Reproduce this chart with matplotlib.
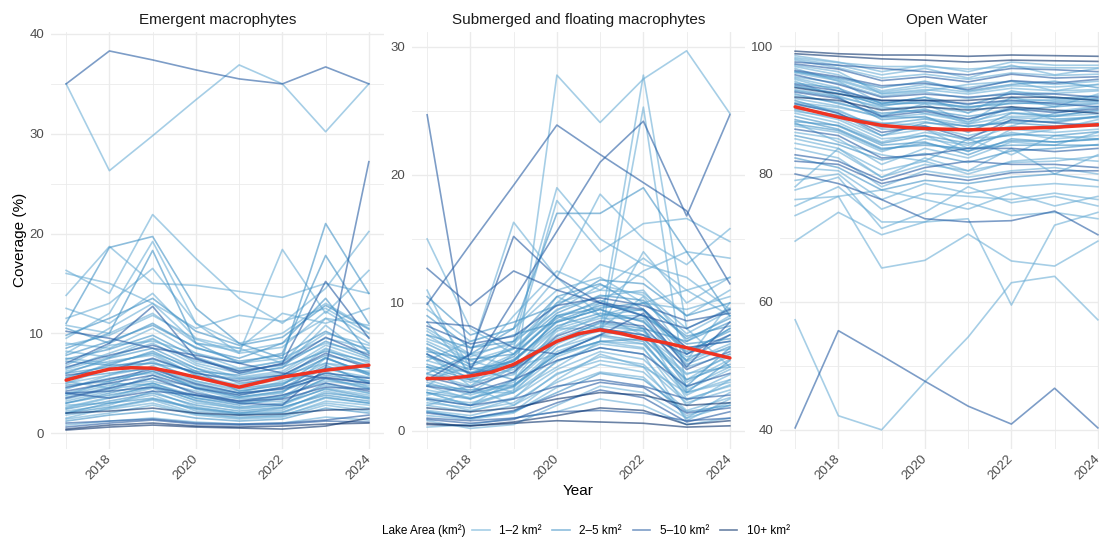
import numpy as np
import matplotlib
matplotlib.use("Agg")
import matplotlib.pyplot as plt
import matplotlib.transforms as mtransforms
from matplotlib.lines import Line2D

plt.rcParams['font.family'] = ['Liberation Sans', 'DejaVu Sans']

years = [2017, 2018, 2019, 2020, 2021, 2022, 2023, 2024]
area_classes = ['1–2 km²', '2–5 km²', '5–10 km²', '10+ km²']
class_colors = ['#6BAED6', '#4292C6', '#265CA3', '#08306B']

# Emergent macrophytes coverage (%) per lake, with lake area class index
emergent = [
    [35.0, 38.3, 37.4, 36.4, 35.5, 35.0, 36.7, 35.0],
    [35.0, 26.3, 29.8, 33.4, 36.9, 35.0, 30.2, 35.0],
    [4.0, 3.5, 4.2, 3.8, 3.0, 2.8, 6.5, 27.2],
    [16.3, 14.0, 21.9, 17.5, 13.5, 11.0, 14.5, 20.2],
    [13.8, 18.7, 15.0, 14.8, 14.2, 13.6, 15.0, 14.0],
    [11.0, 18.6, 19.7, 12.5, 9.0, 7.5, 21.0, 14.0],
    [9.5, 12.0, 19.2, 11.0, 8.0, 18.4, 12.0, 16.3],
    [7.0, 9.0, 12.7, 7.5, 6.0, 7.0, 15.2, 9.5],
    [8.5, 10.0, 18.3, 9.0, 7.0, 8.0, 17.8, 11.0],
    [16.0, 15.0, 13.0, 10.5, 11.8, 11.2, 12.5, 10.0],
    [10.5, 9.0, 11.0, 8.5, 7.5, 9.0, 13.5, 8.0],
    [6.5, 8.0, 9.5, 7.0, 6.0, 6.5, 10.8, 7.5],
    [0.4, 0.8, 1.0, 0.7, 0.6, 0.7, 0.9, 1.0],
    [0.3, 0.6, 0.8, 0.6, 0.5, 0.4, 0.7, 1.5],
    [1.0, 1.2, 1.4, 1.0, 0.9, 1.0, 1.3, 1.8],
    [5.0, 6.5, 7.0, 5.5, 4.5, 5.0, 6.5, 6.8],
    [4.5, 5.5, 6.0, 4.8, 3.8, 4.5, 6.0, 5.5],
    [3.0, 4.0, 5.0, 3.5, 2.8, 3.5, 5.5, 4.5],
    [2.0, 3.0, 3.5, 2.5, 2.0, 2.5, 4.0, 3.5],
    [7.5, 7.0, 8.0, 6.5, 5.5, 6.0, 8.5, 7.0],
    [3.5, 4.5, 5.5, 4.0, 3.2, 3.8, 5.0, 4.2],
    [1.5, 2.5, 3.3, 2.0, 1.5, 1.8, 3.0, 2.5],
    [2.5, 3.5, 4.5, 3.0, 2.5, 2.8, 4.5, 3.8],
    [6.0, 7.5, 8.5, 6.5, 5.0, 5.5, 7.5, 6.0],
    [9.0, 8.5, 10.5, 8.0, 7.0, 7.5, 9.5, 8.5],
    [4.0, 5.0, 4.8, 3.5, 3.0, 3.2, 4.8, 4.0],
    [5.5, 6.0, 6.5, 5.0, 4.0, 4.5, 6.8, 5.0],
    [10.2, 9.5, 8.5, 7.8, 7.0, 6.0, 5.5, 5.0],
    [3.2, 4.2, 5.8, 3.8, 3.5, 4.0, 7.5, 6.0],
    [12.5, 11.0, 14.0, 9.5, 8.5, 12.0, 11.0, 12.5],
    [1.2, 1.8, 2.2, 1.5, 1.2, 1.4, 2.5, 2.0],
    [6.8, 8.8, 9.2, 8.0, 6.5, 7.2, 9.0, 8.0],
    [5.8, 6.3, 7.5, 6.0, 5.2, 5.8, 8.0, 6.5],
    [2.8, 3.0, 3.8, 2.2, 1.8, 2.0, 3.5, 3.0],
    [11.5, 13.0, 16.5, 11.0, 9.0, 10.0, 13.0, 10.5],
    [4.8, 5.2, 6.2, 4.5, 3.6, 4.2, 5.8, 5.2],
    [8.0, 10.5, 13.0, 9.0, 8.5, 7.0, 11.5, 9.0],
    [2.0, 2.2, 2.5, 2.0, 1.8, 1.9, 2.3, 2.4],
    [3.8, 4.8, 5.2, 4.2, 3.0, 3.8, 5.2, 4.8],
    [7.2, 6.8, 7.0, 6.2, 5.8, 6.6, 8.2, 7.2],
    [0.8, 1.2, 1.5, 1.1, 0.9, 1.0, 1.6, 1.3],
    [5.2, 4.5, 5.5, 4.6, 4.0, 5.2, 6.5, 6.2],
    [4.2, 5.0, 5.8, 4.5, 3.8, 4.6, 6.0, 5.5],
    [2.4, 3.2, 4.0, 2.8, 2.2, 2.6, 3.8, 3.2],
    [6.2, 7.2, 7.8, 5.8, 4.8, 5.8, 7.0, 6.5],
    [3.6, 4.6, 6.8, 4.4, 3.4, 3.6, 6.2, 4.6],
    [5.6, 6.8, 8.2, 6.2, 4.2, 4.8, 7.6, 5.8],
    [2.2, 2.8, 4.2, 2.6, 2.0, 2.3, 4.2, 3.4],
    [7.8, 9.2, 10.8, 8.6, 7.2, 7.8, 10.2, 8.2],
    [4.4, 5.8, 7.2, 5.2, 4.2, 4.9, 7.0, 5.9],
    [6.6, 7.8, 8.8, 7.4, 6.2, 6.9, 9.6, 7.8],
    [1.8, 2.4, 3.0, 1.9, 1.6, 1.7, 3.2, 2.8],
    [3.0, 3.8, 4.6, 3.3, 2.6, 3.0, 4.4, 3.6],
    [8.8, 9.8, 11.8, 9.4, 8.0, 8.6, 12.2, 9.6],
    [5.0, 5.8, 6.6, 5.2, 4.4, 5.0, 6.4, 5.6],
    [6.0, 6.6, 7.4, 6.0, 5.4, 5.8, 7.8, 6.8],
    [2.6, 3.6, 4.8, 3.2, 2.4, 2.8, 5.0, 4.0],
    [4.6, 5.4, 6.4, 4.9, 4.0, 4.4, 5.6, 5.0],
    [10.8, 10.0, 12.0, 9.0, 8.2, 9.0, 11.5, 10.8],
    [1.4, 2.0, 2.8, 1.8, 1.4, 1.6, 2.8, 2.2],
    [7.4, 8.4, 9.8, 7.6, 6.2, 6.8, 9.2, 7.6],
    [3.4, 4.4, 5.0, 3.7, 3.1, 3.6, 5.4, 4.4],
    [5.4, 7.0, 8.0, 5.8, 4.6, 5.4, 8.4, 6.6],
    [9.8, 11.5, 13.5, 10.2, 8.8, 9.6, 12.8, 10.4],
    [4.0, 4.2, 4.6, 3.8, 3.2, 3.4, 4.6, 4.4],
    [6.4, 7.6, 9.0, 6.8, 5.6, 6.2, 8.8, 7.4],
    [2.0, 2.6, 3.4, 2.4, 1.9, 2.1, 3.6, 3.0],
    [8.2, 7.6, 9.4, 7.2, 6.4, 7.2, 10.0, 8.8],
    [0.6, 1.0, 1.3, 0.9, 0.8, 0.9, 1.2, 1.1],
    [3.8, 5.2, 6.2, 4.6, 3.6, 4.1, 6.6, 5.2],
]
emergent_class = [2, 0, 2, 0, 0, 1, 0, 2, 1, 0, 1, 0, 3, 3, 2, 0, 0, 1, 1, 0,
                  2, 0, 0, 1, 0, 0, 1, 2, 0, 0, 1, 0, 2, 0, 0, 1, 0, 3, 0, 1,
                  0, 0, 2, 1, 0, 0, 1, 0, 1, 0, 2, 0, 1, 0, 0, 1, 0, 2, 0, 0,
                  1, 0, 0, 1, 2, 0, 1, 0, 2, 0]

# Submerged and floating macrophytes coverage (%)
submerged = [
    [24.7, 4.8, 10.2, 15.6, 21.0, 24.2, 16.8, 24.7],
    [9.9, 14.6, 19.2, 23.9, 21.6, 19.4, 17.2, 11.5],
    [5.0, 3.0, 3.0, 27.8, 24.1, 27.5, 29.7, 24.8],
    [3.0, 2.0, 4.0, 8.0, 8.0, 27.8, 8.0, 5.0],
    [2.0, 3.0, 5.0, 6.0, 7.0, 25.3, 3.0, 4.0],
    [4.5, 6.0, 8.0, 17.0, 17.0, 19.0, 14.0, 9.0],
    [6.0, 4.0, 7.0, 19.0, 15.0, 13.0, 12.0, 9.5],
    [4.0, 5.0, 6.5, 18.0, 14.0, 16.2, 16.6, 14.8],
    [5.5, 7.0, 8.0, 12.0, 18.5, 15.0, 13.0, 15.8],
    [15.0, 8.0, 6.0, 9.0, 10.0, 12.5, 14.0, 13.5],
    [3.5, 6.0, 16.3, 12.0, 9.0, 10.0, 11.0, 9.0],
    [4.0, 6.0, 15.2, 12.0, 10.0, 9.5, 6.5, 7.0],
    [12.7, 9.8, 12.5, 11.0, 10.0, 9.0, 8.0, 9.5],
    [8.5, 8.2, 6.5, 6.0, 7.5, 9.2, 5.0, 8.5],
    [11.0, 4.0, 3.0, 6.5, 8.0, 10.5, 6.0, 8.0],
    [8.0, 6.0, 5.0, 7.5, 9.0, 9.0, 4.0, 6.0],
    [6.5, 5.0, 4.0, 7.0, 8.5, 8.0, 3.5, 6.5],
    [2.5, 2.0, 3.0, 5.0, 7.0, 6.5, 2.0, 4.0],
    [1.5, 1.0, 1.5, 4.0, 6.0, 5.0, 1.0, 3.0],
    [3.0, 2.5, 3.5, 6.0, 7.5, 7.0, 3.0, 5.5],
    [0.5, 0.4, 0.6, 0.8, 0.7, 0.6, 0.3, 0.4],
    [1.0, 0.8, 1.0, 1.5, 1.6, 1.4, 0.8, 1.0],
    [7.0, 5.5, 6.5, 9.5, 10.5, 11.0, 7.0, 9.0],
    [5.0, 4.0, 5.5, 8.5, 9.5, 8.5, 5.5, 7.5],
    [9.5, 7.0, 8.0, 11.0, 12.0, 10.0, 9.5, 10.5],
    [2.0, 1.5, 2.5, 5.5, 6.5, 6.0, 0.8, 2.5],
    [3.5, 3.0, 4.0, 5.5, 6.5, 6.0, 3.5, 4.5],
    [0.8, 0.2, 0.5, 2.0, 3.5, 3.0, 1.0, 2.0],
    [4.5, 3.5, 5.0, 8.0, 9.0, 7.5, 5.0, 6.0],
    [7.5, 6.5, 7.0, 10.5, 11.5, 9.5, 6.0, 8.0],
    [10.0, 5.0, 9.0, 12.5, 11.0, 13.5, 11.0, 12.0],
    [6.0, 3.5, 6.0, 10.0, 13.0, 12.0, 9.0, 11.0],
    [2.5, 2.0, 2.5, 3.5, 4.0, 3.5, 2.5, 2.8],
    [3.5, 2.5, 4.0, 7.0, 8.0, 7.5, 4.5, 5.0],
    [1.5, 1.0, 1.5, 3.0, 4.5, 4.0, 1.5, 2.0],
    [5.5, 4.5, 5.5, 8.0, 10.0, 9.0, 6.5, 7.0],
    [7.5, 5.5, 4.5, 9.0, 8.0, 14.0, 10.0, 12.0],
    [1.8, 1.5, 1.8, 2.5, 3.0, 2.8, 2.0, 2.2],
    [4.0, 3.0, 3.5, 6.5, 7.5, 8.0, 2.5, 3.5],
    [9.0, 6.5, 7.5, 8.5, 9.5, 8.0, 7.0, 8.5],
    [0.3, 0.5, 1.0, 1.5, 2.5, 2.0, 0.5, 1.0],
    [6.0, 4.5, 5.0, 7.0, 8.0, 7.5, 6.0, 7.5],
    [2.8, 3.5, 2.0, 4.5, 5.5, 5.0, 3.0, 3.8],
    [8.5, 4.5, 6.0, 10.5, 9.0, 9.5, 5.5, 10.0],
    [3.2, 2.6, 3.4, 6.2, 7.4, 6.8, 3.4, 5.0],
    [5.2, 4.2, 5.6, 8.2, 9.2, 8.6, 5.2, 6.6],
    [1.2, 0.9, 1.4, 3.4, 4.6, 4.2, 1.2, 2.2],
    [6.8, 5.2, 6.4, 9.2, 10.6, 10.2, 7.2, 8.8],
    [2.2, 1.8, 2.6, 4.8, 6.2, 5.6, 2.4, 3.6],
    [4.2, 3.4, 4.6, 7.4, 8.6, 8.2, 4.8, 6.2],
    [7.2, 6.0, 6.8, 10.0, 11.0, 10.8, 8.0, 9.6],
    [0.9, 0.6, 0.9, 2.2, 3.2, 2.6, 0.7, 1.5],
    [3.8, 2.8, 3.8, 6.8, 8.2, 7.8, 3.8, 5.6],
    [5.8, 4.8, 5.4, 8.6, 9.8, 9.4, 6.2, 7.8],
    [2.6, 2.2, 3.0, 5.4, 6.8, 6.4, 2.8, 4.4],
    [8.2, 6.8, 7.4, 9.8, 10.4, 9.8, 8.6, 9.2],
    [1.6, 1.2, 2.0, 3.8, 5.2, 4.6, 1.6, 2.6],
    [4.8, 3.8, 4.4, 7.8, 8.8, 8.8, 5.4, 6.8],
    [6.2, 5.6, 6.0, 8.8, 10.2, 9.0, 6.8, 7.2],
    [3.0, 2.0, 3.2, 5.8, 7.0, 6.8, 3.2, 4.8],
    [0.6, 0.4, 0.7, 1.2, 1.8, 1.6, 0.5, 0.8],
    [10.5, 7.5, 8.5, 9.8, 11.8, 11.5, 9.0, 10.0],
    [2.4, 1.6, 2.2, 4.4, 5.8, 5.2, 2.2, 3.2],
    [5.0, 4.6, 5.2, 7.2, 8.4, 7.8, 5.8, 6.4],
    [3.6, 3.2, 3.6, 6.0, 7.0, 7.2, 4.0, 5.2],
    [7.8, 5.8, 7.0, 9.4, 11.4, 10.6, 7.6, 9.4],
    [1.4, 1.0, 1.6, 2.8, 3.8, 3.4, 1.4, 1.8],
    [4.4, 4.0, 4.8, 7.0, 7.8, 7.2, 4.4, 5.8],
    [6.4, 4.4, 5.8, 9.0, 9.6, 10.0, 7.4, 8.2],
]
submerged_class = [2, 2, 0, 0, 0, 1, 0, 0, 0, 0, 0, 2, 2, 2, 0, 0, 1, 0, 0, 1,
                   3, 2, 0, 1, 0, 0, 2, 0, 0, 1, 0, 0, 2, 0, 1, 0, 0, 3, 0, 1,
                   0, 2, 0, 0, 0, 1, 0, 1, 0, 2, 0, 2, 0, 1, 0, 2, 0, 0, 1, 0,
                   3, 1, 0, 0, 1, 0, 2, 0, 1]

# Open water coverage (%)
open_water = [
    [40.3, 55.5, 51.6, 47.6, 43.7, 40.9, 46.5, 40.3],
    [57.2, 42.2, 40.0, 47.5, 54.5, 63.0, 64.0, 57.2],
    [76.0, 76.5, 65.3, 66.5, 70.6, 66.4, 65.6, 69.5],
    [69.5, 74.0, 70.5, 72.5, 73.0, 59.5, 72.0, 74.0],
    [80.0, 78.5, 76.0, 73.0, 72.5, 72.7, 74.2, 70.5],
    [73.5, 76.5, 77.5, 76.0, 74.5, 77.0, 75.0, 76.5],
    [99.2, 98.8, 98.6, 98.6, 98.4, 98.6, 98.5, 98.4],
    [98.8, 98.4, 98.0, 97.8, 97.5, 97.8, 97.7, 97.6],
    [97.5, 97.0, 96.5, 96.0, 95.5, 96.5, 96.3, 96.0],
    [98.0, 97.0, 95.5, 96.5, 95.0, 97.0, 95.5, 96.5],
    [96.0, 95.0, 93.5, 94.5, 93.0, 94.0, 94.5, 93.5],
    [94.0, 93.0, 91.5, 91.5, 91.0, 91.5, 91.0, 90.5],
    [92.0, 91.5, 90.0, 90.5, 90.0, 90.5, 90.0, 89.5],
    [95.0, 93.5, 89.0, 91.0, 88.0, 92.0, 90.5, 92.5],
    [93.0, 92.0, 88.5, 89.0, 86.5, 89.5, 89.0, 90.0],
    [91.0, 90.0, 87.0, 87.0, 84.0, 88.5, 88.0, 89.0],
    [90.0, 88.5, 85.5, 86.0, 83.5, 87.0, 86.5, 87.0],
    [89.0, 87.5, 84.5, 85.0, 83.0, 85.5, 85.0, 85.5],
    [87.0, 86.0, 82.5, 83.0, 84.0, 84.0, 83.5, 84.0],
    [85.5, 84.0, 80.5, 82.0, 80.0, 82.0, 82.5, 82.0],
    [84.0, 82.5, 78.0, 80.5, 79.5, 80.5, 81.0, 80.0],
    [82.5, 81.0, 77.5, 79.0, 78.5, 79.5, 80.0, 79.0],
    [81.0, 80.5, 76.0, 78.5, 77.0, 78.0, 78.5, 78.0],
    [79.0, 80.0, 74.5, 77.0, 76.5, 76.0, 77.0, 76.0],
    [83.0, 82.0, 79.0, 81.0, 82.0, 81.5, 81.5, 81.0],
    [77.5, 79.5, 71.5, 74.0, 78.0, 75.5, 76.5, 75.0],
    [88.0, 85.0, 83.0, 82.0, 85.5, 83.0, 86.0, 85.5],
    [91.5, 89.5, 86.0, 88.0, 87.5, 88.0, 87.5, 88.0],
    [97.0, 96.0, 92.5, 93.0, 94.0, 94.5, 93.0, 94.0],
    [96.5, 94.5, 91.0, 92.0, 89.5, 93.0, 92.0, 91.5],
    [95.5, 94.0, 92.0, 92.5, 92.0, 92.5, 92.5, 92.0],
    [92.5, 91.0, 89.5, 90.0, 89.0, 90.0, 90.5, 91.0],
    [86.5, 85.5, 81.5, 84.0, 82.5, 85.0, 84.5, 86.5],
    [89.5, 88.0, 85.0, 86.5, 85.5, 86.0, 87.0, 88.5],
    [93.5, 92.5, 91.5, 91.5, 91.5, 92.0, 92.0, 91.5],
    [78.0, 84.0, 79.5, 82.5, 80.5, 84.0, 80.0, 83.0],
    [75.0, 78.0, 72.5, 72.5, 75.5, 73.5, 74.0, 73.0],
    [88.5, 87.0, 84.0, 84.5, 84.0, 84.5, 84.5, 84.5],
    [94.5, 92.0, 90.5, 89.5, 88.5, 90.5, 88.5, 89.0],
    [90.5, 89.0, 88.0, 87.5, 86.0, 87.5, 89.5, 90.5],
    [91.0, 89.5, 86.5, 87.5, 85.5, 88.5, 88.0, 87.5],
    [98.5, 97.5, 96.0, 97.0, 96.0, 97.5, 97.0, 97.0],
    [87.5, 86.5, 83.5, 85.5, 84.5, 86.5, 85.5, 86.0],
    [96.8, 95.5, 93.0, 94.0, 93.5, 94.5, 94.0, 94.5],
    [93.8, 92.6, 90.8, 91.2, 90.5, 91.0, 91.2, 91.4],
    [95.8, 94.6, 92.6, 93.2, 92.5, 93.4, 93.0, 93.2],
    [92.8, 91.8, 89.0, 89.8, 88.6, 90.2, 89.6, 90.2],
    [90.8, 89.8, 87.2, 88.2, 86.8, 88.8, 88.6, 88.8],
    [94.2, 93.4, 91.0, 92.0, 90.8, 92.6, 91.8, 92.2],
    [97.8, 96.6, 95.0, 95.6, 94.8, 95.8, 95.4, 95.6],
    [89.8, 88.8, 86.0, 87.0, 85.2, 87.4, 87.2, 87.8],
    [88.2, 87.6, 84.8, 86.0, 84.8, 86.2, 86.0, 86.6],
    [93.2, 92.2, 90.2, 90.6, 89.6, 91.2, 90.8, 91.2],
    [96.2, 95.2, 93.8, 94.2, 93.2, 94.6, 94.2, 94.8],
    [91.8, 90.6, 88.8, 89.4, 88.2, 89.6, 89.2, 89.8],
    [86.0, 84.6, 82.2, 83.2, 81.8, 83.6, 84.0, 84.6],
    [94.8, 93.0, 90.6, 91.6, 90.2, 91.8, 91.4, 91.8],
    [97.2, 96.4, 94.6, 95.2, 94.4, 95.6, 95.0, 95.2],
    [92.2, 91.2, 89.2, 90.2, 87.8, 90.4, 89.8, 90.6],
    [84.8, 83.5, 79.5, 81.5, 80.5, 81.8, 82.0, 82.8],
    [90.2, 89.2, 87.8, 88.6, 87.4, 88.2, 88.2, 89.0],
    [95.2, 94.2, 92.2, 92.8, 91.8, 92.8, 92.6, 93.0],
    [82.0, 81.5, 78.5, 80.0, 79.0, 80.2, 80.5, 80.5],
    [93.6, 92.6, 91.2, 91.0, 90.4, 91.4, 91.6, 91.8],
    [98.2, 97.4, 96.8, 96.8, 96.4, 96.8, 96.6, 96.6],
    [87.8, 86.8, 83.8, 84.8, 83.6, 85.2, 85.0, 85.4],
    [91.2, 90.4, 89.0, 88.8, 87.8, 89.0, 89.0, 89.4],
    [96.0, 94.8, 92.8, 93.6, 92.8, 93.8, 93.6, 94.0],
]
open_class = [2, 0, 0, 0, 2, 0, 3, 3, 2, 0, 1, 2, 3, 0, 1, 0, 0, 1, 2, 0,
              0, 1, 0, 0, 2, 0, 0, 1, 0, 0, 2, 1, 0, 0, 3, 0, 0, 1, 0, 0,
              2, 0, 0, 0, 1, 0, 2, 0, 1, 0, 0, 1, 0, 2, 0, 1, 0, 2, 0, 0,
              1, 0, 2, 0, 0, 1, 0, 0]

# smoothed trend (red line), read at half-year steps
trend_years = [2017, 2017.5, 2018, 2018.5, 2019, 2019.5, 2020, 2020.5,
               2021, 2021.5, 2022, 2022.5, 2023, 2023.5, 2024]
emergent_trend = [5.3, 5.9, 6.4, 6.55, 6.5, 6.1, 5.6, 5.1, 4.6, 5.1, 5.6, 5.95, 6.3, 6.55, 6.8]
submerged_trend = [4.1, 4.1, 4.3, 4.6, 5.2, 6.1, 7.0, 7.6, 7.9, 7.6, 7.2, 6.9, 6.5, 6.1, 5.7]
open_trend = [90.5, 89.7, 88.9, 88.2, 87.6, 87.3, 87.1, 87.0, 86.9, 87.0, 87.1, 87.2, 87.3, 87.5, 87.7]

panels = [
    ('Emergent macrophytes', emergent, emergent_class, emergent_trend,
     (-1.6, 40.2), [0, 10, 20, 30, 40], [5, 15, 25, 35], 51),
    ('Submerged and floating macrophytes', submerged, submerged_class, submerged_trend,
     (-1.41, 31.17), [0, 10, 20, 30], [5, 15, 25], 412),
    ('Open Water', open_water, open_class, open_trend,
     (37.0, 102.2), [40, 60, 80, 100], [50, 70, 90], 780),
]

W, H = 1099, 537
fig = plt.figure(figsize=(W / 100, H / 100), dpi=100)

grid_col = '#EBEBEB'
for title, lines, classes, trend, ylim, yticks, yminor, left_px in panels:
    ax = fig.add_axes([left_px / W, 1 - 449 / H, 333 / W, 417 / H])
    for vals, c in zip(lines, classes):
        ax.plot(years, vals, color=class_colors[c], alpha=0.6, lw=1.2, zorder=2 + c * 0.1)
    ax.plot(trend_years, trend, color='#EE3322', lw=2.5, zorder=5,
            solid_capstyle='round')
    ax.set_xlim(2016.65, 2024.35)
    ax.set_ylim(*ylim)
    ax.set_xticks([2018, 2020, 2022, 2024])
    ax.set_xticks([2017, 2019, 2021, 2023], minor=True)
    ax.set_yticks(yticks)
    ax.set_yticks(yminor, minor=True)
    ax.grid(which='major', color=grid_col, lw=1.0, zorder=0)
    ax.grid(which='minor', color=grid_col, lw=0.6, zorder=0)
    ax.set_axisbelow(True)
    for s in ax.spines.values():
        s.set_visible(False)
    ax.tick_params(which='both', length=0, colors='#4D4D4D', labelsize=9.5)
    ax.tick_params(axis='y', pad=5)
    ax.tick_params(axis='x', pad=3)
    offset = mtransforms.ScaledTranslation(4 / 100, 0, fig.dpi_scale_trans)
    for lab in ax.get_xticklabels():
        lab.set_rotation(45)
        lab.set_ha('right')
        lab.set_va('top')
        lab.set_transform(lab.get_transform() + offset)
    ax.set_title(title, fontsize=11, color='#1A1A1A', pad=6)

fig.text(20 / W, 1 - 240 / H, 'Coverage (%)', rotation=90, ha='center', va='center', fontsize=11)
fig.text(578 / W, 1 - 491 / H, 'Year', ha='center', va='center', fontsize=11)

fig.text(382 / W, 1 - 531 / H, 'Lake Area (km²)', ha='left', va='center', fontsize=8.5)
handles = [Line2D([0], [0], color=c, alpha=0.6, lw=1.2) for c in class_colors]
fig.legend(handles, area_classes, loc='center left', bbox_to_anchor=(472 / W, 1 - 531 / H),
           ncol=4, frameon=False, fontsize=8.5, handlelength=1.5, handletextpad=0.8,
           columnspacing=0.9, borderpad=0, borderaxespad=0)

fig.savefig('out.png', dpi=100)
